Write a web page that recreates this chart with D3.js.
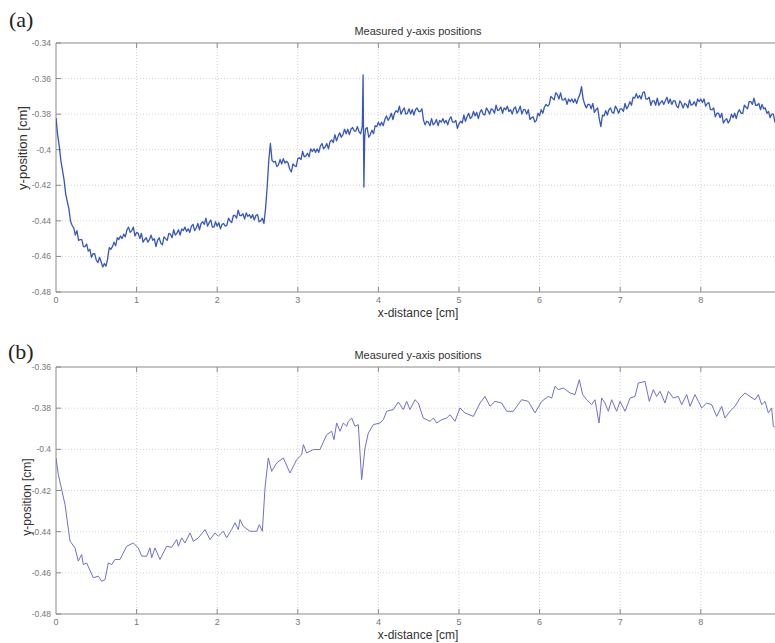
<!DOCTYPE html>
<meta charset="utf-8">
<body style="margin:0;background:#fff">
<script src="https://d3js.org/d3.v7.min.js"></script>
<svg></svg>
<script>
    var width = 775;
    var height = 643;

    // x ticks shared by both panels, y ticks per panel
    var xTicks = [0, 1, 2, 3, 4, 5, 6, 7, 8];
    var yTicksA = [-0.48, -0.46, -0.44, -0.42, -0.4, -0.38, -0.36, -0.34];
    var yTicksB = [-0.48, -0.46, -0.44, -0.42, -0.4, -0.38, -0.36];

    var titleText = "Measured y-axis positions";
    var xLabel = "x-distance [cm]";
    var yLabel = "y-position [cm]";

    // (a) raw measured positions [x, y]
    var rawData = [
        [0.00,-.3822],[0.02,-.3915],[0.04,-.3978],[0.06,-.4060],[0.08,-.4115],[0.10,-.4170],[0.12,-.4248],[0.14,-.4292],[0.16,-.4332],[0.18,-.4402],
        [0.20,-.4425],[0.22,-.4440],[0.24,-.4480],[0.26,-.4455],[0.28,-.4510],[0.30,-.4505],[0.32,-.4505],[0.34,-.4545],[0.36,-.4545],[0.38,-.4530],
        [0.40,-.4570],[0.42,-.4560],[0.44,-.4605],[0.46,-.4585],[0.48,-.4585],[0.50,-.4620],[0.52,-.4635],[0.54,-.4605],[0.56,-.4630],[0.58,-.4660],
        [0.60,-.4640],[0.62,-.4655],[0.64,-.4615],[0.66,-.4550],[0.68,-.4560],[0.70,-.4545],[0.72,-.4520],[0.74,-.4540],[0.76,-.4495],[0.78,-.4505],
        [0.80,-.4485],[0.82,-.4500],[0.84,-.4475],[0.86,-.4490],[0.88,-.4450],[0.90,-.4435],[0.92,-.4465],[0.94,-.4455],[0.96,-.4435],[0.98,-.4485],
        [1.00,-.4465],[1.02,-.4470],[1.04,-.4500],[1.06,-.4470],[1.08,-.4520],[1.10,-.4505],[1.12,-.4495],[1.14,-.4520],[1.16,-.4505],[1.18,-.4480],
        [1.20,-.4510],[1.22,-.4500],[1.24,-.4545],[1.26,-.4510],[1.28,-.4495],[1.30,-.4525],[1.32,-.4535],[1.34,-.4490],[1.36,-.4500],[1.38,-.4510],
        [1.40,-.4470],[1.42,-.4475],[1.44,-.4495],[1.46,-.4450],[1.48,-.4480],[1.50,-.4470],[1.52,-.4450],[1.54,-.4480],[1.56,-.4445],[1.58,-.4455],
        [1.60,-.4435],[1.62,-.4460],[1.64,-.4445],[1.66,-.4465],[1.68,-.4430],[1.70,-.4420],[1.72,-.4455],[1.74,-.4440],[1.76,-.4415],[1.78,-.4450],
        [1.80,-.4415],[1.82,-.4405],[1.84,-.4420],[1.86,-.4385],[1.88,-.4430],[1.90,-.4410],[1.92,-.4395],[1.94,-.4435],[1.96,-.4435],[1.98,-.4405],
        [2.00,-.4430],[2.02,-.4410],[2.04,-.4445],[2.06,-.4420],[2.08,-.4415],[2.10,-.4430],[2.12,-.4425],[2.14,-.4385],[2.16,-.4400],[2.18,-.4410],
        [2.20,-.4370],[2.22,-.4370],[2.24,-.4385],[2.26,-.4340],[2.28,-.4370],[2.30,-.4370],[2.32,-.4360],[2.34,-.4390],[2.36,-.4355],[2.38,-.4375],
        [2.40,-.4365],[2.42,-.4385],[2.44,-.4365],[2.46,-.4395],[2.48,-.4370],[2.50,-.4365],[2.52,-.4405],[2.54,-.4400],[2.56,-.4385],[2.58,-.4415],
        [2.60,-.4330],[2.62,-.4210],[2.64,-.4060],[2.66,-.3965],[2.68,-.4060],[2.70,-.4070],[2.72,-.4065],[2.74,-.4095],[2.76,-.4085],[2.78,-.4055],
        [2.80,-.4080],[2.82,-.4050],[2.84,-.4075],[2.86,-.4065],[2.88,-.4075],[2.90,-.4110],[2.92,-.4125],[2.94,-.4080],[2.96,-.4090],[2.98,-.4095],
        [3.00,-.4050],[3.02,-.4045],[3.04,-.4055],[3.06,-.4010],[3.08,-.4040],[3.10,-.4035],[3.12,-.4020],[3.14,-.4040],[3.16,-.3995],[3.18,-.4010],
        [3.20,-.3995],[3.22,-.4015],[3.24,-.3995],[3.26,-.4015],[3.28,-.3980],[3.30,-.3965],[3.32,-.3995],[3.34,-.3985],[3.36,-.3965],[3.38,-.3995],
        [3.40,-.3955],[3.42,-.3945],[3.44,-.3960],[3.46,-.3915],[3.48,-.3950],[3.50,-.3925],[3.52,-.3905],[3.54,-.3930],[3.56,-.3915],[3.58,-.3885],
        [3.60,-.3910],[3.62,-.3885],[3.64,-.3915],[3.66,-.3885],[3.68,-.3875],[3.70,-.3895],[3.72,-.3895],[3.74,-.3870],[3.76,-.3900],[3.78,-.3910],
        [3.80,-.3870],[3.81,-.3580],[3.82,-.4210],[3.83,-.3930],[3.84,-.3885],[3.86,-.3875],[3.88,-.3930],[3.90,-.3915],[3.92,-.3890],[3.94,-.3910],
        [3.96,-.3865],[3.98,-.3870],[4.00,-.3845],[4.02,-.3865],[4.04,-.3845],[4.06,-.3865],[4.08,-.3830],[4.10,-.3810],[4.12,-.3835],[4.14,-.3820],
        [4.16,-.3795],[4.18,-.3830],[4.20,-.3795],[4.22,-.3780],[4.24,-.3790],[4.26,-.3755],[4.28,-.3800],[4.30,-.3780],[4.32,-.3765],[4.34,-.3800],
        [4.36,-.3795],[4.38,-.3770],[4.40,-.3800],[4.42,-.3775],[4.44,-.3805],[4.46,-.3775],[4.48,-.3765],[4.50,-.3785],[4.52,-.3785],[4.54,-.3770],
        [4.56,-.3835],[4.58,-.3860],[4.60,-.3840],[4.62,-.3845],[4.64,-.3865],[4.66,-.3825],[4.68,-.3860],[4.70,-.3850],[4.72,-.3830],[4.74,-.3865],
        [4.76,-.3835],[4.78,-.3845],[4.80,-.3825],[4.82,-.3850],[4.84,-.3835],[4.86,-.3860],[4.88,-.3830],[4.90,-.3815],[4.92,-.3845],[4.94,-.3845],
        [4.96,-.3835],[4.98,-.3880],[5.00,-.3855],[5.02,-.3840],[5.04,-.3850],[5.06,-.3805],[5.08,-.3840],[5.10,-.3815],[5.12,-.3795],[5.14,-.3825],
        [5.16,-.3815],[5.18,-.3785],[5.20,-.3810],[5.22,-.3790],[5.24,-.3825],[5.26,-.3790],[5.28,-.3775],[5.30,-.3800],[5.32,-.3805],[5.34,-.3765],
        [5.36,-.3780],[5.38,-.3800],[5.40,-.3770],[5.42,-.3775],[5.44,-.3795],[5.46,-.3750],[5.48,-.3780],[5.50,-.3775],[5.52,-.3760],[5.54,-.3795],
        [5.56,-.3765],[5.58,-.3775],[5.60,-.3755],[5.62,-.3785],[5.64,-.3775],[5.66,-.3800],[5.68,-.3770],[5.70,-.3760],[5.72,-.3795],[5.74,-.3780],
        [5.76,-.3755],[5.78,-.3800],[5.80,-.3775],[5.82,-.3775],[5.84,-.3800],[5.86,-.3775],[5.88,-.3830],[5.90,-.3820],[5.92,-.3815],[5.94,-.3845],
        [5.96,-.3835],[5.98,-.3795],[6.00,-.3810],[6.02,-.3775],[6.04,-.3795],[6.06,-.3760],[6.08,-.3745],[6.10,-.3755],[6.12,-.3745],[6.14,-.3700],
        [6.16,-.3710],[6.18,-.3720],[6.20,-.3680],[6.22,-.3690],[6.24,-.3715],[6.26,-.3680],[6.28,-.3720],[6.30,-.3720],[6.32,-.3710],[6.34,-.3745],
        [6.36,-.3715],[6.38,-.3730],[6.40,-.3715],[6.42,-.3735],[6.44,-.3715],[6.46,-.3740],[6.48,-.3710],[6.50,-.3690],[6.52,-.3645],[6.54,-.3715],
        [6.56,-.3745],[6.58,-.3765],[6.60,-.3745],[6.62,-.3745],[6.64,-.3770],[6.66,-.3740],[6.68,-.3790],[6.70,-.3775],[6.72,-.3765],[6.74,-.3825],
        [6.76,-.3870],[6.78,-.3805],[6.80,-.3810],[6.82,-.3780],[6.84,-.3805],[6.86,-.3775],[6.88,-.3765],[6.90,-.3790],[6.92,-.3795],[6.94,-.3755],
        [6.96,-.3770],[6.98,-.3795],[7.00,-.3770],[7.02,-.3770],[7.04,-.3785],[7.06,-.3740],[7.08,-.3770],[7.10,-.3755],[7.12,-.3730],[7.14,-.3750],
        [7.16,-.3705],[7.18,-.3710],[7.20,-.3685],[7.22,-.3710],[7.24,-.3695],[7.26,-.3715],[7.28,-.3680],[7.30,-.3675],[7.32,-.3715],[7.34,-.3715],
        [7.36,-.3705],[7.38,-.3750],[7.40,-.3725],[7.42,-.3725],[7.44,-.3750],[7.46,-.3710],[7.48,-.3750],[7.50,-.3735],[7.52,-.3725],[7.54,-.3745],
        [7.56,-.3725],[7.58,-.3705],[7.60,-.3740],[7.62,-.3715],[7.64,-.3745],[7.66,-.3725],[7.68,-.3725],[7.70,-.3755],[7.72,-.3765],[7.74,-.3725],
        [7.76,-.3740],[7.78,-.3765],[7.80,-.3740],[7.82,-.3745],[7.84,-.3765],[7.86,-.3720],[7.88,-.3750],[7.90,-.3745],[7.92,-.3730],[7.94,-.3755],
        [7.96,-.3715],[7.98,-.3730],[8.00,-.3715],[8.02,-.3735],[8.04,-.3715],[8.06,-.3755],[8.08,-.3740],[8.10,-.3735],[8.12,-.3775],[8.14,-.3775],
        [8.16,-.3765],[8.18,-.3815],[8.20,-.3795],[8.22,-.3795],[8.24,-.3820],[8.26,-.3795],[8.28,-.3850],[8.30,-.3835],[8.32,-.3825],[8.34,-.3850],
        [8.36,-.3835],[8.38,-.3800],[8.40,-.3820],[8.42,-.3795],[8.44,-.3825],[8.46,-.3790],[8.48,-.3775],[8.50,-.3795],[8.52,-.3795],[8.54,-.3750],
        [8.56,-.3760],[8.58,-.3770],[8.60,-.3730],[8.62,-.3730],[8.64,-.3745],[8.66,-.3710],[8.68,-.3750],[8.70,-.3750],[8.72,-.3740],[8.74,-.3775],
        [8.76,-.3745],[8.78,-.3770],[8.80,-.3765],[8.82,-.3795],[8.84,-.3785],[8.86,-.3820],[8.88,-.3800],[8.90,-.3800],[8.92,-.3845],[8.94,-.3840],
        [8.96,-.3825]
    ];

    // (b) filtered positions [x, y]
    var filteredData = [
        [0.000,-.4042],[0.029,-.4123],[0.112,-.4268],[0.174,-.4446],[0.236,-.4479],[0.277,-.4543],[0.318,-.4511],[0.339,-.4560],
        [0.380,-.4552],[0.463,-.4624],[0.525,-.4616],[0.567,-.4641],[0.608,-.4633],[0.649,-.4552],[0.691,-.4560],[0.732,-.4535],
        [0.794,-.4535],[0.877,-.4471],[0.959,-.4455],[1.021,-.4479],[1.063,-.4519],[1.125,-.4519],[1.166,-.4479],[1.187,-.4527],
        [1.228,-.4479],[1.290,-.4535],[1.373,-.4471],[1.435,-.4476],[1.497,-.4438],[1.518,-.4471],[1.559,-.4430],[1.600,-.4455],
        [1.663,-.4406],[1.704,-.4447],[1.766,-.4430],[1.849,-.4390],[1.911,-.4438],[1.973,-.4406],[2.014,-.4422],[2.076,-.4398],
        [2.117,-.4430],[2.179,-.4390],[2.221,-.4357],[2.262,-.4390],[2.283,-.4341],[2.324,-.4374],[2.407,-.4398],[2.490,-.4398],
        [2.523,-.4366],[2.560,-.4398],[2.593,-.4188],[2.634,-.4042],[2.676,-.4107],[2.738,-.4066],[2.821,-.4042],[2.903,-.4115],
        [2.986,-.4050],[3.048,-.4026],[3.069,-.3977],[3.110,-.4018],[3.193,-.4001],[3.275,-.4001],[3.358,-.3929],[3.420,-.3912],
        [3.449,-.3953],[3.482,-.3872],[3.524,-.3912],[3.565,-.3872],[3.606,-.3888],[3.627,-.3864],[3.668,-.3848],[3.710,-.3888],
        [3.751,-.3880],[3.792,-.4147],[3.834,-.3993],[3.875,-.3921],[3.937,-.3880],[4.020,-.3872],[4.061,-.3856],[4.102,-.3815],
        [4.185,-.3807],[4.247,-.3770],[4.309,-.3807],[4.351,-.3767],[4.392,-.3807],[4.454,-.3759],[4.495,-.3775],[4.557,-.3848],
        [4.640,-.3864],[4.682,-.3848],[4.723,-.3872],[4.785,-.3856],[4.847,-.3848],[4.888,-.3832],[4.950,-.3864],[5.012,-.3799],
        [5.074,-.3823],[5.178,-.3840],[5.261,-.3775],[5.323,-.3743],[5.385,-.3791],[5.447,-.3767],[5.529,-.3775],[5.591,-.3815],
        [5.674,-.3815],[5.777,-.3759],[5.860,-.3767],[5.943,-.3823],[6.026,-.3767],[6.108,-.3743],[6.150,-.3751],[6.191,-.3694],
        [6.232,-.3710],[6.294,-.3702],[6.377,-.3726],[6.439,-.3734],[6.493,-.3662],[6.534,-.3734],[6.584,-.3759],[6.646,-.3783],
        [6.687,-.3759],[6.737,-.3872],[6.770,-.3751],[6.811,-.3775],[6.853,-.3815],[6.894,-.3759],[6.956,-.3815],[6.998,-.3767],
        [7.060,-.3815],[7.122,-.3751],[7.184,-.3743],[7.225,-.3678],[7.308,-.3670],[7.361,-.3767],[7.411,-.3710],[7.452,-.3743],
        [7.494,-.3718],[7.556,-.3775],[7.597,-.3718],[7.659,-.3751],[7.721,-.3743],[7.763,-.3783],[7.825,-.3734],[7.866,-.3791],
        [7.928,-.3734],[7.970,-.3767],[8.011,-.3799],[8.073,-.3775],[8.135,-.3783],[8.197,-.3840],[8.259,-.3791],[8.300,-.3848],
        [8.362,-.3815],[8.424,-.3791],[8.486,-.3751],[8.549,-.3726],[8.610,-.3743],[8.672,-.3759],[8.714,-.3734],[8.755,-.3783],
        [8.797,-.3767],[8.838,-.3823],[8.879,-.3799],[8.900,-.3888],[8.950,-.3900]
    ];

    var svg = d3.select("svg")
        .attr("width", width)
        .attr("height", height)
        .style("background-color", "white")
        .style("display", "block");

    var x = d3.scaleLinear().domain([0, 9]).range([56, 781.4]);

    function tickFmt(v) { return String(+v.toFixed(2)); }

    function panel(opts) {
        var y = d3.scaleLinear().domain([opts.yTicks[0], opts.yTicks[opts.yTicks.length - 1]])
            .range([opts.bottom, opts.top]);
        var g = svg.append("g");

        g.append("clipPath").attr("id", opts.id + "clip")
            .append("rect").attr("x", 56).attr("y", opts.top).attr("width", 730).attr("height", opts.bottom - opts.top);

        // dotted grid
        g.selectAll(".vg").data(xTicks.slice(1)).enter().append("line")
            .attr("x1", x).attr("x2", x).attr("y1", opts.top).attr("y2", opts.bottom)
            .style("stroke", "#d2d2d2").style("stroke-dasharray", "1,2");
        g.selectAll(".hg").data(opts.yTicks.slice(1, -1)).enter().append("line")
            .attr("x1", 56).attr("x2", 781).attr("y1", y).attr("y2", y)
            .style("stroke", "#d2d2d2").style("stroke-dasharray", "1,2");

        // frame
        g.append("path")
            .attr("d", "M781," + opts.top + "H56V" + opts.bottom + "H781")
            .style("fill", "none").style("stroke", "#8a8a8a");

        // tick marks, pointing inward
        g.selectAll(".xtb").data(xTicks.slice(1)).enter().append("line")
            .attr("x1", x).attr("x2", x).attr("y1", opts.bottom).attr("y2", opts.bottom - 5)
            .style("stroke", "#8a8a8a");
        g.selectAll(".xtt").data(xTicks.slice(1)).enter().append("line")
            .attr("x1", x).attr("x2", x).attr("y1", opts.top).attr("y2", opts.top + 5)
            .style("stroke", "#8a8a8a");
        g.selectAll(".yt").data(opts.yTicks).enter().append("line")
            .attr("x1", 56).attr("x2", 61).attr("y1", y).attr("y2", y)
            .style("stroke", "#8a8a8a");

        // tick labels
        g.selectAll(".xl").data(xTicks).enter().append("text")
            .attr("x", x).attr("y", opts.bottom + 11)
            .attr("text-anchor", "middle")
            .style("font", "9px 'Liberation Sans', Arial, sans-serif").style("fill", "#777")
            .text(function(d) { return d; });
        g.selectAll(".yl").data(opts.yTicks).enter().append("text")
            .attr("x", 51).attr("y", function(d) { return y(d) + 3; })
            .attr("text-anchor", "end")
            .style("font", "8.5px 'Liberation Sans', Arial, sans-serif").style("fill", "#777")
            .text(tickFmt);

        // the measured line
        g.append("path")
            .datum(opts.data)
            .attr("clip-path", "url(#" + opts.id + "clip)")
            .attr("d", d3.line().x(function(d) { return x(d[0]); }).y(function(d) { return y(d[1]); }))
            .style("fill", "none")
            .style("stroke", opts.color)
            .style("stroke-width", opts.lw)
            .style("stroke-linejoin", "round");

        // title and axis labels
        g.append("text").attr("x", 418).attr("y", opts.top - 8)
            .attr("text-anchor", "middle")
            .style("font", "11px 'Liberation Sans', Arial, sans-serif").style("fill", "#333")
            .text(titleText);
        g.append("text").attr("x", 418).attr("y", opts.bottom + 25)
            .attr("text-anchor", "middle")
            .style("font", "12px 'Liberation Sans', Arial, sans-serif").style("fill", "#333")
            .text(xLabel);
        g.append("text")
            .attr("transform", "translate(" + opts.ylx + "," + opts.yly + ") rotate(-90)")
            .attr("text-anchor", "middle")
            .style("font", opts.ylSize + "px 'Liberation Sans', Arial, sans-serif").style("fill", "#333")
            .text(yLabel);

        // panel letter
        g.append("text").attr("x", opts.lx).attr("y", opts.ly)
            .style("font", "22px 'Liberation Serif', 'Times New Roman', serif").style("fill", "#222")
            .text(opts.letter);
    }

    panel({ id: "a", data: rawData, yTicks: yTicksA, top: 43, bottom: 292,
        color: "#3656c0", lw: 1.3, ylx: 27, yly: 148, ylSize: 13, letter: "(a)", lx: 9, ly: 27 });
    panel({ id: "b", data: filteredData, yTicks: yTicksB, top: 367, bottom: 614,
        color: "#6f6fd2", lw: 1, ylx: 31, yly: 497, ylSize: 12, letter: "(b)", lx: 8, ly: 359 });
</script>
